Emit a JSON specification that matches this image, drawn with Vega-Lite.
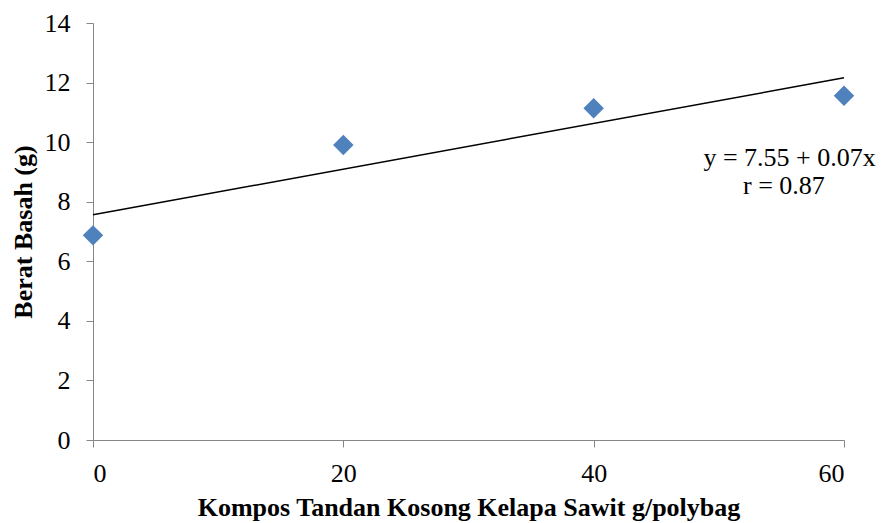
{
  "$schema": "https://vega.github.io/schema/vega-lite/v6.json",
  "width": 751,
  "height": 417,
  "autosize": "none",
  "padding": {"left": 93, "top": 23, "right": 40, "bottom": 83},
  "background": "white",
  "config": {
    "view": {"stroke": null},
    "font": "Liberation Serif",
    "axis": {
      "grid": false,
      "domainColor": "#868686",
      "tickColor": "#868686",
      "tickSize": 7,
      "labelFont": "Liberation Serif",
      "labelFontSize": 26,
      "labelColor": "black",
      "titleFont": "Liberation Serif",
      "titleFontSize": 26,
      "titleFontWeight": "bold",
      "titleColor": "black"
    }
  },
  "datasets": {
    "points": [
      {"x": 0, "y": 6.87},
      {"x": 20, "y": 9.9},
      {"x": 40, "y": 11.14},
      {"x": 60, "y": 11.56}
    ],
    "trend": [
      {"x": 0, "y": 7.56},
      {"x": 60, "y": 12.16}
    ],
    "notes": [
      {"x": 55.65, "y": 9.2, "label": "y = 7.55 + 0.07x"},
      {"x": 55.2, "y": 8.26, "label": "r = 0.87"}
    ]
  },
  "layer": [
    {
      "data": {"name": "trend"},
      "mark": {"type": "line", "color": "black", "strokeWidth": 1.5},
      "encoding": {
        "x": {
          "field": "x", "type": "quantitative",
          "scale": {"domain": [0, 60], "nice": false, "zero": false},
          "axis": {"values": [0, 20, 40, 60], "title": "Kompos Tandan Kosong Kelapa Sawit g/polybag", "labelPadding": 13, "titlePadding": 8}
        },
        "y": {
          "field": "y", "type": "quantitative",
          "scale": {"domain": [0, 14], "nice": false},
          "axis": {"values": [0, 2, 4, 6, 8, 10, 12, 14], "title": "Berat Basah (g)", "labelPadding": 16, "titlePadding": 8}
        }
      }
    },
    {
      "data": {"name": "points"},
      "mark": {"type": "point", "shape": "diamond", "filled": true, "size": 420, "color": "#4F81BD", "opacity": 1},
      "encoding": {
        "x": {"field": "x", "type": "quantitative"},
        "y": {"field": "y", "type": "quantitative"}
      }
    },
    {
      "data": {"name": "notes"},
      "mark": {"type": "text", "align": "center", "baseline": "alphabetic", "fontSize": 26, "font": "Liberation Serif", "color": "black"},
      "encoding": {
        "x": {"field": "x", "type": "quantitative"},
        "y": {"field": "y", "type": "quantitative"},
        "text": {"field": "label"}
      }
    }
  ]
}
